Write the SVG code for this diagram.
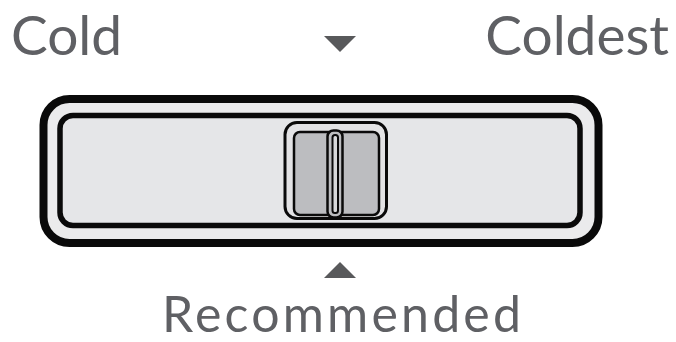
<svg xmlns="http://www.w3.org/2000/svg" width="676" height="342" viewBox="0 0 676 342">
<style>
.lbl{font-family:Lato,"Liberation Sans",sans-serif;fill:#5f6064}
.tri{fill:#58595b}
.blk{stroke:#0a0a0a;stroke-linejoin:round}
</style>
<rect width="676" height="342" fill="#ffffff"/>
<g id="labels">
<text class="lbl" x="11" y="55" font-size="55">Cold</text>
<text class="lbl" x="669" y="55" font-size="55" text-anchor="end">Coldest</text>
<text class="lbl" x="162" y="332" font-size="50" textLength="359" lengthAdjust="spacing">Recommended</text>
</g>
<g id="markers">
<polygon class="tri" points="324,36 356,36 340,52"/>
<polygon class="tri" points="340,262 324,278 356,278"/>
</g>
<g id="frame">
<rect class="blk" x="43.5" y="99" width="555" height="144" rx="26" fill="#ebebec" stroke-width="8"/>
<rect class="blk" x="60" y="115.5" width="520" height="110" rx="13" fill="#e5e6e8" stroke-width="5.5"/>
</g>
<g id="slider">
<rect class="blk" x="285" y="122.5" width="101.5" height="96" rx="12" fill="#e3e3e5" stroke-width="3"/>
<rect class="blk" x="294" y="132" width="85" height="83" rx="6" fill="#bcbdc0" stroke-width="2.5"/>
<rect class="blk" x="327.5" y="130.5" width="15" height="87" rx="6" fill="#bcbdc0" stroke-width="2.5"/>
<rect class="blk" x="332.5" y="135" width="5.5" height="78" rx="2.5" fill="#d7d8da" stroke-width="2"/>
</g>
</svg>
